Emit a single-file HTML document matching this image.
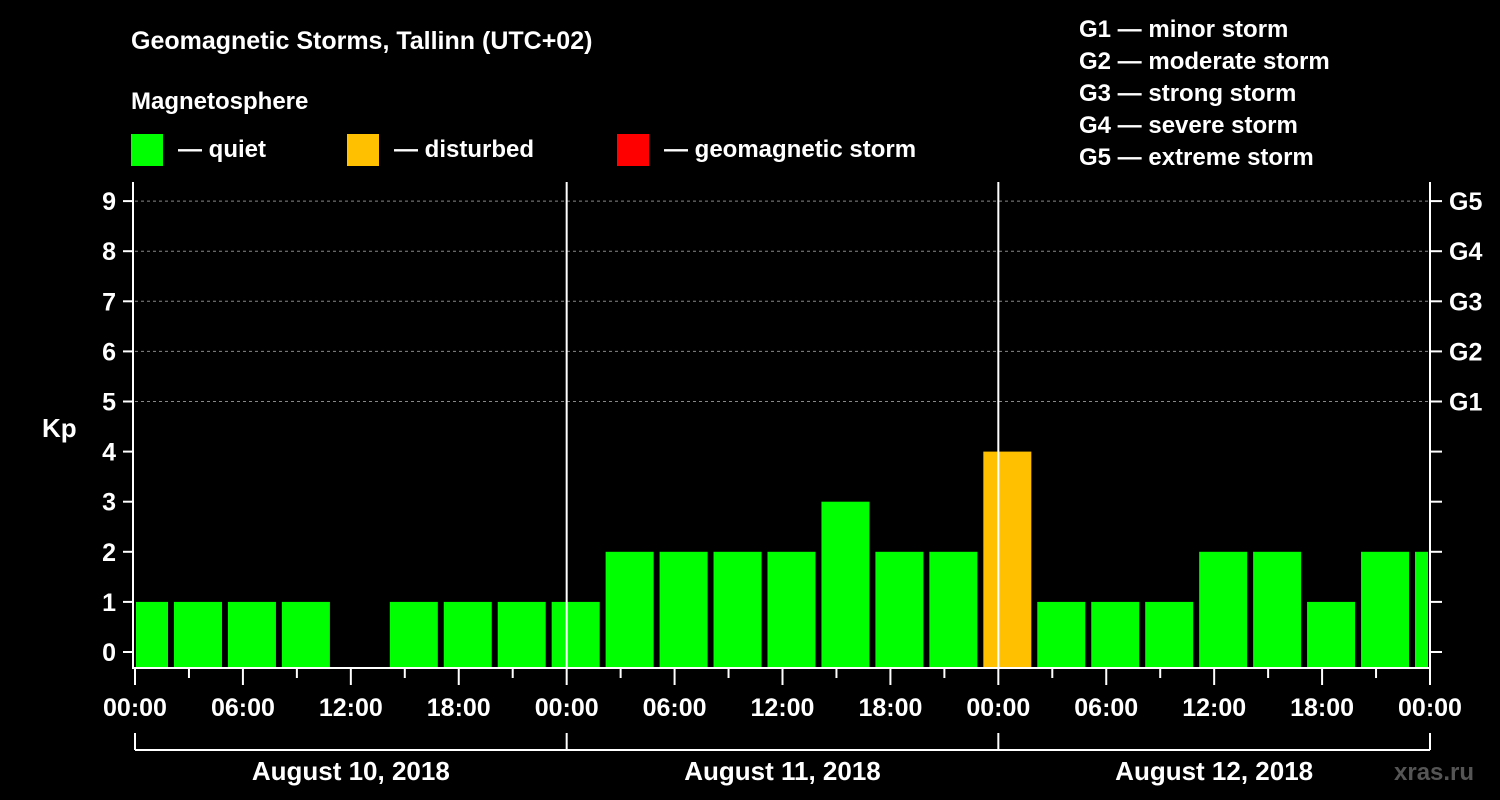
<!DOCTYPE html>
<html><head><meta charset="utf-8"><style>
body{margin:0;background:#000;}
svg{display:block;font-family:"Liberation Sans",sans-serif;font-weight:bold;}
</style></head><body>
<svg id="c" width="1500" height="800">
<rect width="1500" height="800" fill="#000"/>
<text x="131" y="49" fill="#fff" font-size="25">Geomagnetic Storms, Tallinn (UTC+02)</text>
<text x="131" y="109" fill="#fff" font-size="24">Magnetosphere</text>
<g><rect x="131" y="134" width="32" height="32" fill="#00ff00"/><text x="178" y="157" fill="#fff" font-size="24">— quiet</text></g>
<g><rect x="347" y="134" width="32" height="32" fill="#ffc000"/><text x="394" y="157" fill="#fff" font-size="24">— disturbed</text></g>
<g><rect x="617" y="134" width="32" height="32" fill="#ff0000"/><text x="664" y="157" fill="#fff" font-size="24">— geomagnetic storm</text></g>
<g fill="#fff" font-size="24">
<text x="1079" y="37">G1 — minor storm</text>
<text x="1079" y="69">G2 — moderate storm</text>
<text x="1079" y="101">G3 — strong storm</text>
<text x="1079" y="133">G4 — severe storm</text>
<text x="1079" y="165">G5 — extreme storm</text>
</g>
<text x="42" y="437" fill="#fff" font-size="26">Kp</text>
<text x="1394" y="780" fill="#555" font-size="24">xras.ru</text>
<g id="plot"></g>
</svg>
<script>
const kpValues=[1,1,1,1,null,1,1,1,1,2,2,2,2,3,2,2,4,1,1,1,2,2,1,2,2];
const dayLabels=["August 10, 2018","August 11, 2018","August 12, 2018"];
const hourLabels=["00:00","06:00","12:00","18:00"];
const gLabels=["G1","G2","G3","G4","G5"];
const NS="http://www.w3.org/2000/svg";
const g=document.getElementById('plot');
const X0=135,X1=1430,YB=668,hourPx=(X1-X0)/72;
const xs=h=>X0+h*hourPx;
const ys=v=>652-v*50.1;
function mk(t,a,txt){const e=document.createElementNS(NS,t);for(const k in a)e.setAttribute(k,a[k]);if(txt!==undefined)e.textContent=txt;g.appendChild(e);return e;}
// grid
for(let v=5;v<=9;v++){const e=mk('line',{x1:X0,x2:X1,y1:ys(v),y2:ys(v),stroke:'#888','stroke-dasharray':'3,3','stroke-width':1});

}
// bars
kpValues.forEach((v,i)=>{if(v===null)return;
let s=xs(i*3-0.8333),e=s+48;s=Math.max(s,X0+1);e=Math.min(e,X1-2);
const col=v>=5?'#ff0000':v>=4?'#ffc000':'#00ff00';
const r=mk('rect',{x:s,y:ys(v),width:e-s,height:YB-ys(v),fill:col});

});
// day separators
for(let d=1;d<3;d++){const e=mk('line',{x1:xs(d*24),x2:xs(d*24),y1:182,y2:YB,stroke:'#fff','stroke-width':2});

}
// axes
const ax=mk('path',{d:`M${X0-2},182V${YB}H${X1}V182`,stroke:'#fff','stroke-width':2,fill:'none'});


for(let v=0;v<=9;v++){
mk('line',{x1:123,x2:X0-2,y1:ys(v),y2:ys(v),stroke:'#fff','stroke-width':2});
mk('line',{x1:X1,x2:1442,y1:ys(v),y2:ys(v),stroke:'#fff','stroke-width':2});
const t=mk('text',{x:116,y:ys(v)+9,fill:'#fff','font-size':25,'text-anchor':'end'},String(v));

}
gLabels.forEach((l,i)=>{const t=mk('text',{x:1449,y:ys(i+5)+9,fill:'#fff','font-size':25},l);

});
for(let h=0;h<=72;h+=3){const major=h%6===0;
mk('line',{x1:xs(h),x2:xs(h),y1:YB,y2:major?685:678,stroke:'#fff','stroke-width':2});
if(major){const t=mk('text',{x:xs(h),y:716,fill:'#fff','font-size':25,'text-anchor':'middle'},hourLabels[(h/6)%4]);

}}
mk('line',{x1:X0,x2:X1,y1:750,y2:750,stroke:'#fff','stroke-width':2});
for(let d=0;d<=3;d++)mk('line',{x1:xs(d*24),x2:xs(d*24),y1:733,y2:750,stroke:'#fff','stroke-width':2});
dayLabels.forEach((l,d)=>{const t=mk('text',{x:xs(d*24+12),y:780,fill:'#fff','font-size':26,'text-anchor':'middle'},l);

});
</script>
</body></html>
